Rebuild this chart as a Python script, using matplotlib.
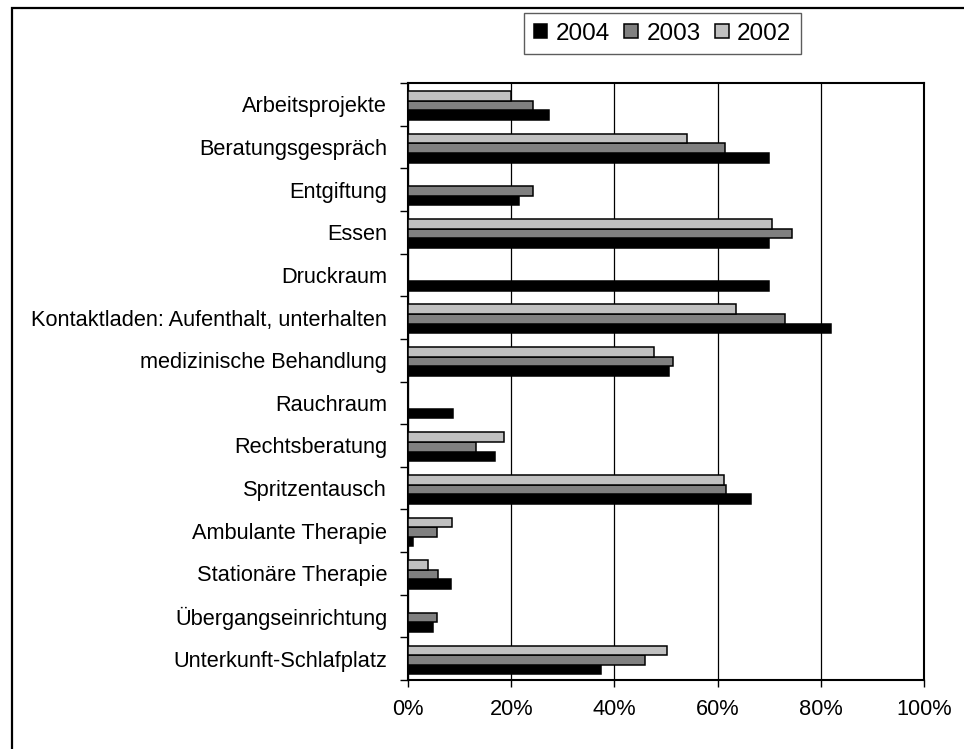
import numpy as np
import matplotlib
matplotlib.use('Agg')
import matplotlib.pyplot as plt
from matplotlib.patches import Rectangle

# data (share of users, %)
categories = ['Arbeitsprojekte', 'Beratungsgespräch', 'Entgiftung', 'Essen', 'Druckraum',
              'Kontaktladen: Aufenthalt, unterhalten', 'medizinische Behandlung', 'Rauchraum',
              'Rechtsberatung', 'Spritzentausch', 'Ambulante Therapie', 'Stationäre Therapie',
              'Übergangseinrichtung', 'Unterkunft-Schlafplatz']
v2004 = [27.3, 70.0, 21.5, 70.0, 70.0, 82.0, 50.6, 8.7, 16.9, 66.4, 0.9, 8.3, 4.8, 37.4]
v2003 = [24.2, 61.4, 24.2, 74.5, None, 73.0, 51.3, None, 13.2, 61.7, 5.6, 5.9, 5.6, 45.9]
v2002 = [20.0, 54.0, None, 70.6, None, 63.6, 47.7, None, 18.7, 61.3, 8.6, 3.9, None, 50.1]
x_ticks = [0, 20, 40, 60, 80, 100]
x_labels = ['0%', '20%', '40%', '60%', '80%', '100%']

plt.rcParams['font.family'] = ['Liberation Sans', 'DejaVu Sans']
plt.rcParams['font.size'] = 15.7

fig = plt.figure(figsize=(9.64, 7.49), dpi=100)
ax = fig.add_axes([408 / 964, 1 - 680 / 749, 516 / 964, 597 / 749])

# outer frame (only left / top visible)
fig.patches.append(Rectangle((12 / 964, -0.2), 1.2, 1.2 - 8 / 749, transform=fig.transFigure,
                             fill=False, edgecolor='black', linewidth=1.6))

h = 0.225
shift = 0.03
y = np.arange(len(categories))


def draw(values, offset, color, label):
    vals = np.array([np.nan if v is None else v for v in values], dtype=float)
    ok = ~np.isnan(vals)
    ax.barh(y[ok] + offset + shift, vals[ok], height=h, color=color, edgecolor='black',
            linewidth=1.1, label=label, zorder=3)


draw(v2004, h, 'black', '2004')
draw(v2003, 0, '#808080', '2003')
draw(v2002, -h, '#c0c0c0', '2002')

ax.set_xlim(0, 100)
ax.set_ylim(len(categories) - 0.5, -0.5)

ax.set_xticks(x_ticks)
ax.set_xticklabels(x_labels)
ax.xaxis.grid(True, color='black', linewidth=0.9, zorder=0)
ax.tick_params(axis='x', direction='out', length=5, width=1, pad=9)

# category boundaries as major ticks, names on minor ticks
ax.set_yticks(np.arange(len(categories) + 1) - 0.5)
ax.set_yticklabels([])
ax.set_yticks(y, minor=True)
ax.set_yticklabels(categories, minor=True)
ax.tick_params(axis='y', which='major', direction='out', length=6, width=1)
ax.tick_params(axis='y', which='minor', length=0, pad=15)

for s in ax.spines.values():
    s.set_linewidth(1.5)

handles, labels = ax.get_legend_handles_labels()
leg = fig.legend(handles, labels, loc='upper left', bbox_to_anchor=(524 / 964, 1 - 13 / 749),
                 ncol=3, frameon=True, fancybox=False, edgecolor='#333333', fontsize=17.5,
                 handlelength=0.55, handleheight=0.55, handletextpad=0.35, columnspacing=0.6,
                 borderpad=0.4, borderaxespad=0)
leg.get_frame().set_linewidth(1)

fig.savefig('out.png', dpi=100, facecolor='white')
